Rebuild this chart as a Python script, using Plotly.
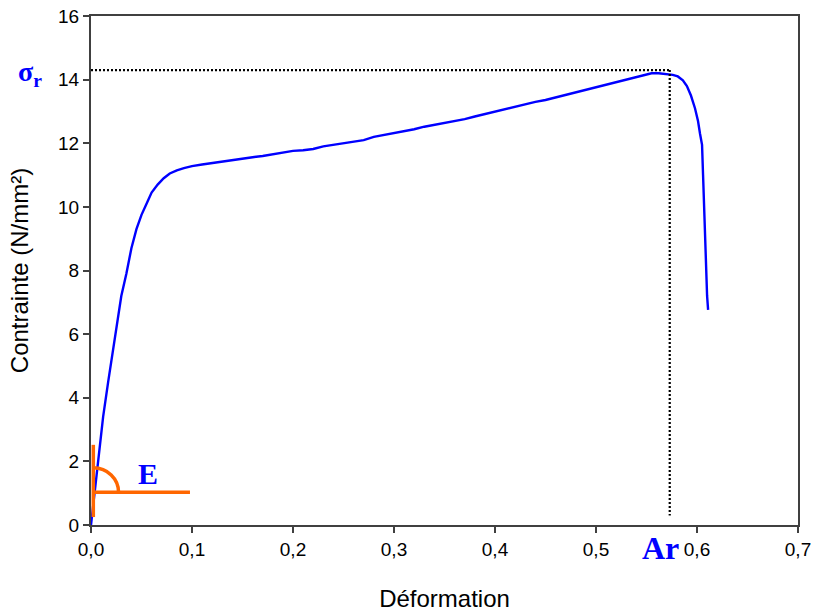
import plotly.graph_objects as go

# Stress-strain curve
strain = [0, 0.004, 0.008, 0.012, 0.017, 0.022, 0.026, 0.030, 0.035, 0.040, 0.045, 0.050, 0.055,
          0.060, 0.066, 0.072, 0.078, 0.085, 0.092, 0.100, 0.110, 0.120, 0.130, 0.140, 0.150,
          0.160, 0.170, 0.180, 0.190, 0.200, 0.210, 0.220, 0.230, 0.240, 0.250, 0.260, 0.270,
          0.280, 0.290, 0.300, 0.310, 0.320, 0.330, 0.340, 0.350, 0.360, 0.370, 0.380, 0.390,
          0.400, 0.410, 0.420, 0.430, 0.440, 0.450, 0.460, 0.470, 0.480, 0.490, 0.500, 0.510,
          0.520, 0.530, 0.540, 0.548, 0.555, 0.562, 0.570, 0.576, 0.581, 0.586, 0.590, 0.594,
          0.598, 0.601, 0.603, 0.605, 0.606, 0.607, 0.608, 0.609, 0.610, 0.611]
stress = [0, 1.1, 2.3, 3.4, 4.5, 5.5, 6.4, 7.2, 7.9, 8.7, 9.3, 9.75, 10.1,
          10.45, 10.7, 10.9, 11.05, 11.15, 11.22, 11.28, 11.33, 11.38, 11.42, 11.48, 11.53,
          11.56, 11.6, 11.66, 11.72, 11.76, 11.78, 11.82, 11.9, 11.95, 12.0, 12.04, 12.1,
          12.2, 12.26, 12.32, 12.36, 12.44, 12.52, 12.58, 12.62, 12.68, 12.76, 12.84, 12.92,
          13.0, 13.06, 13.14, 13.22, 13.3, 13.36, 13.44, 13.54, 13.6, 13.68, 13.78, 13.86,
          13.92, 14.0, 14.08, 14.16, 14.2, 14.2, 14.18, 14.15, 14.1, 13.98, 13.8, 13.5,
          13.1, 12.7, 12.3, 11.95, 11.0, 10.0, 9.0, 8.0, 7.2, 6.76]

x_ticks = [0, 0.1, 0.2, 0.3, 0.4, 0.5, 0.6, 0.7]
y_ticks = [0, 2, 4, 6, 8, 10, 12, 14, 16]

sigma_r = 14.3      # rupture stress
a_r = 0.573         # rupture strain

# Orange "E" (modulus) marker
e_x0 = 0.0023
e_y = 1.03
e_vy = [0.25, 2.52]
e_hx1 = 0.098
e_rx = 0.025
e_ry = 0.77

fig = go.Figure()
fig.add_trace(go.Scatter(x=strain, y=stress, mode="lines",
                         line=dict(color="#0000ff", width=2.4), showlegend=False,
                         hoverinfo="skip"))

dot = dict(color="black", width=2.2, dash="2px,2px")
shapes = [
    dict(type="line", xref="x", yref="y", x0=0, x1=a_r, y0=sigma_r, y1=sigma_r, line=dot),
    dict(type="line", xref="x", yref="y", x0=a_r, x1=a_r, y0=sigma_r, y1=0.3, line=dot),
    dict(type="line", xref="x", yref="y", x0=e_x0, x1=e_x0, y0=e_vy[0], y1=e_vy[1],
         line=dict(color="#ff6600", width=3.5)),
    dict(type="line", xref="x", yref="y", x0=e_x0, x1=e_hx1, y0=e_y, y1=e_y,
         line=dict(color="#ff6600", width=3.5)),
]
k = 0.5523
arc = (f"M {e_x0},{e_y + e_ry} C {e_x0 + k * e_rx},{e_y + e_ry} "
       f"{e_x0 + e_rx},{e_y + k * e_ry} {e_x0 + e_rx},{e_y}")
shapes.append(dict(type="path", xref="x", yref="y", path=arc,
                   line=dict(color="#ff6600", width=3.5)))

serif = "Liberation Serif, Times New Roman, serif"
sans = "Liberation Sans, Arial, sans-serif"
annotations = [
    dict(text="<b>E</b>", x=0.0564, y=1.63, xref="x", yref="y", showarrow=False,
         font=dict(family=serif, size=30, color="#0000ff")),
    dict(text="<b>σ<sub>r</sub></b>", x=-0.086, y=sigma_r - 0.1, xref="paper", yref="y",
         xanchor="center", showarrow=False,
         font=dict(family=serif, size=28, color="#0000ff")),
    dict(text="<b>Ar</b>", x=0.5635, y=-0.046, xref="x", yref="paper", showarrow=False,
         xanchor="center", yanchor="middle",
         font=dict(family=serif, size=32, color="#0000ff")),
]

axis_common = dict(showgrid=False, zeroline=False, showline=True, linecolor="#404040",
                   linewidth=2, mirror=True, ticks="outside", ticklen=6, tickwidth=2,
                   tickcolor="#404040", automargin=False,
                   tickfont=dict(family=sans, size=19, color="black"))

fig.update_layout(
    width=814, height=612,
    margin=dict(l=91, r=16, t=16, b=87),
    plot_bgcolor="white", paper_bgcolor="white",
    separators=", ",
    shapes=shapes, annotations=annotations,
    xaxis=dict(range=[0, 0.7], tickvals=x_ticks, tickformat=".1f",
               title=dict(text="Déformation", standoff=31,
                          font=dict(family=sans, size=24, color="black")),
               **axis_common),
    yaxis=dict(range=[0, 16], tickvals=y_ticks,
               title=dict(text="Contrainte (N/mm²)", standoff=23,
                          font=dict(family=sans, size=24, color="black")),
               **axis_common),
)

fig.write_html("out.html", config={"displayModeBar": False},
               post_script="document.body.style.margin='0';document.body.style.padding='0';")
